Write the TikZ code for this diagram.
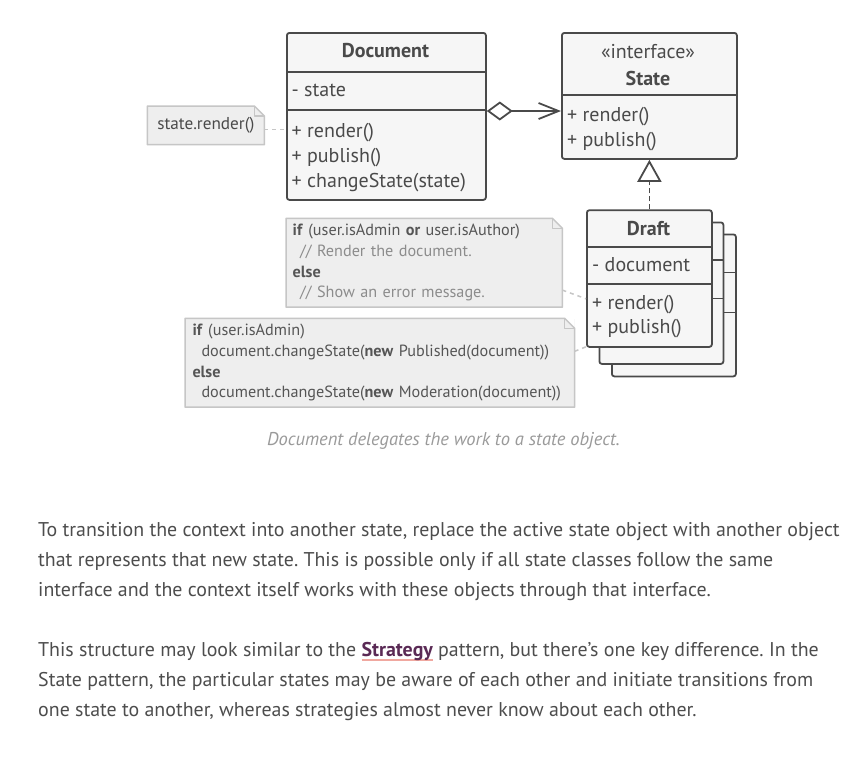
\documentclass[tikz,border=0pt]{standalone}
\usepackage{fontspec}
\setmainfont{PT Sans}
\usetikzlibrary{calc,positioning,arrows.meta}
\definecolor{ink}{HTML}{4A4A4A}
\definecolor{boxfill}{HTML}{F6F6F6}
\definecolor{notefill}{HTML}{EEEEEE}
\definecolor{noteline}{HTML}{C6C6C6}
\definecolor{codegray}{HTML}{555555}
\definecolor{commentgray}{HTML}{8C8C8C}
\definecolor{captiongray}{HTML}{9A9A9A}
\definecolor{bodytext}{HTML}{4D4D4D}
\definecolor{linkpurple}{HTML}{5A2A55}
\definecolor{linkline}{HTML}{F0A8A0}
\tikzset{
	classbox/.style={draw=ink, fill=boxfill, line width=1.8pt, rounded corners=2.5pt, inner sep=0pt},
	divider/.style={draw=ink, line width=1.8pt},
	member/.style={anchor=west, inner sep=0pt, text=ink, font=\fontsize{20}{22}\selectfont, text height=14pt, text depth=4pt},
	classname/.style={inner sep=0pt, text=ink, font=\fontsize{20}{22}\selectfont\bfseries},
	notebox/.style={fill=notefill, inner ysep=0pt, align=left, text=codegray, font=\fontsize{16.2}{20.8}\selectfont},
	noteedge/.style={draw=noteline, line width=1.5pt, line join=round},
	notelink/.style={draw=noteline, line width=1.5pt, dash pattern=on 4pt off 4pt},
	aggr/.style={draw=ink, line width=1.8pt, {Diamond[open,length=26pt,width=19pt]}-{Straight Barb[length=20pt,width=16pt]}},
	realize/.style={draw=ink, line width=1.8pt, dash pattern=on 5pt off 3pt, -{Triangle[open,length=22pt,width=24pt]}},
	bodyline/.style={anchor=base west, inner sep=0pt, text=bodytext, font=\fontsize{19.9}{30}\selectfont},
}
\def\notefold(#1){%
	\fill[white] ($(#1.north east)+(-10,0)$) -- (#1.north east) -- ($(#1.north east)+(0,10)$) -- cycle;
	\draw[noteedge] (#1.north west) -- ($(#1.north east)+(-10,0)$) -- ($(#1.north east)+(0,10)$) -- (#1.south east) -- (#1.south west) -- cycle;
	\draw[noteedge] ($(#1.north east)+(-10,0)$) -- ($(#1.north east)+(-10,10)$) -- ($(#1.north east)+(0,10)$);}
\newcommand\linkword[1]{\setbox0=\hbox{\bfseries{\color{linkpurple}#1}}\rlap{{\color{linkline}\rule[-4.3pt]{\wd0}{2pt}}}\box0\relax}
\frenchspacing

\begin{document}
\begin{tikzpicture}[x=1pt, y=-1pt]
	%%%%% START %%%%%
	\useasboundingbox (0,0) rectangle (852,761);
	\fill[white] (0,0) rectangle (852,761);
	
	% Document
	\node[classbox, anchor=north west, minimum width=199, minimum height=167] (doc) at (286,32) {};
	\draw[divider] (286,72) -- (485,72);
	\draw[divider] (286,110) -- (485,110);
	\node[classname] (docname) at (385.5,51) {Document};
	\node[member] (docstate) at (291.5,91.5) {- state};
	\node[member] (docrender) at (291.5,132) {+ render()};
	\node[member] (docpublish) at (291.5,157) {+ publish()};
	\node[member] (docchange) at (291.5,182) {+ changeState(state)};
	
	% State
	\node[classbox, anchor=north west, minimum width=175, minimum height=126] (state) at (561,32) {};
	\draw[divider] (561,95) -- (736,95);
	\node[inner sep=0pt, text=ink, font=\fontsize{20}{22}\selectfont] (stereo) at (648,51.5) {«interface»};
	\node[classname] (statename) at (648,78) {State};
	\node[member] (staterender) at (567,116) {+ render()};
	\node[member] (statepublish) at (567,141) {+ publish()};
	
	% Draft, two copies behind
	\node[classbox, anchor=north west, minimum width=124, minimum height=142] (draftC) at (611,233.5) {};
	\draw[divider] (611,272.5) -- (735,272.5);
	\draw[divider] (611,312.5) -- (735,312.5);
	\node[classbox, anchor=north west, minimum width=124, minimum height=141.5] (draftB) at (598.5,221.5) {};
	\draw[divider] (598.5,260) -- (722.5,260);
	\draw[divider] (598.5,298.5) -- (722.5,298.5);
	\node[classbox, anchor=north west, minimum width=125, minimum height=136.7] (draft) at (586,209.3) {};
	\draw[divider] (586,246.7) -- (711,246.7);
	\draw[divider] (586,284) -- (711,284);
	\node[classname] (draftname) at (648.5,229) {Draft};
	\node[member] (draftdoc) at (592,266.5) {- document};
	\node[member] (draftrender) at (592,304) {+ render()};
	\node[member] (draftpublish) at (592,328) {+ publish()};
	
	\draw[aggr] ($(doc.north east)+(0,79)$) -- ($(state.north west)+(0,79)$);
	\draw[realize] (draft.north) -- (draft.north |- state.south);
	
	% notes
	\node[notebox, anchor=north west, minimum width=116.7, minimum height=38.3, inner xsep=0pt, align=center, text=ink, font=\fontsize{17.2}{20}\selectfont] (srnote) at (147.3,106) {state.render()};
	\notefold(srnote)
	\draw[notelink] ($(srnote.east)+(0,4)$) -- ($(doc.west |- srnote.east)+(0,4)$);
	
	\node[notebox, anchor=north west, minimum height=88.4, inner xsep=6.5pt, text width=263pt] (rendernote) at (286,218.3) {%
		\textbf{if} (user.isAdmin \textbf{or} user.isAuthor)\\
		\hspace*{7.5pt}{\color{commentgray}// Render the document.}\\
		\textbf{else}\\
		\hspace*{7.5pt}{\color{commentgray}// Show an error message.}};
	\notefold(rendernote)
	\draw[notelink] ($(rendernote.south east)+(0,-17)$) -- ($(draft.south west)+(0,-49)$);
	
	\node[notebox, anchor=north west, minimum height=88.4, inner xsep=7.3pt, text width=374.7pt] (publishnote) at (185,318.3) {%
		\textbf{if} (user.isAdmin)\\
		\hspace*{9pt}document.changeState(\textbf{new} Published(document))\\
		\textbf{else}\\
		\hspace*{9pt}document.changeState(\textbf{new} Moderation(document))};
	\notefold(publishnote)
	\draw[notelink] ($(publishnote.north east)+(0,33)$) -- ($(draft.south west)+(0,-1)$);
	
	% caption and text
	\node[inner sep=0pt, text=captiongray, font=\fontsize{18.5}{20}\selectfont\itshape] (caption) at (443.5,441) {Document delegates the work to a state object.};
	
	\node[bodyline] (parA1) at (38,536.5) {To transition the context into another state, replace the active state object with another object};
	\node[bodyline] (parA2) at (38,566.5) {that represents that new state. This is possible only if all state classes follow the same};
	\node[bodyline] (parA3) at (38,596.5) {interface and the context itself works with these objects through that interface.};
	
	\node[bodyline] (parB1) at (38,656.5) {This structure may look similar to the \linkword{Strategy} pattern, but there’s one key difference. In the};
	\node[bodyline] (parB2) at (38,686.5) {State pattern, the particular states may be aware of each other and initiate transitions from};
	\node[bodyline] (parB3) at (38,716.5) {one state to another, whereas strategies almost never know about each other.};
	%%%%% END %%%%%
\end{tikzpicture}
\end{document}
